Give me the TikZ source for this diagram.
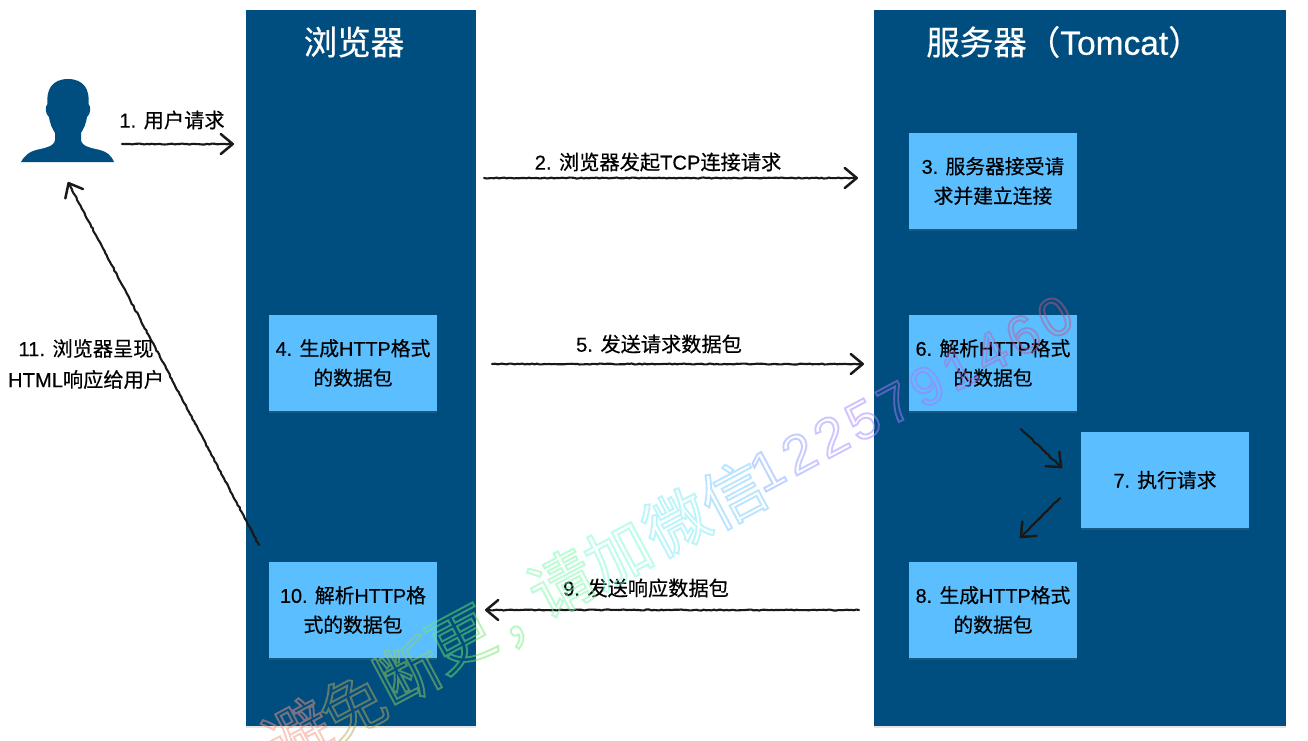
\documentclass[tikz,border=0pt]{standalone}
\usepackage{fontspec}
\setmainfont[FakeBold=0.45]{Liberation Sans}
\newfontfamily\cjk[FakeBold=0.45]{Noto Sans CJK SC}
\newfontfamily\wmcjk{Noto Sans CJK SC}
\newfontfamily\wmlat{Liberation Sans}
\usetikzlibrary{arrows.meta,decorations.pathmorphing,shadows}
\definecolor{panelblue}{RGB}{0,78,127}
\definecolor{boxblue}{RGB}{90,190,255}
\newcommand{\ol}[1]{\special{pdf:code 1 Tr 1.9 w}#1\special{pdf:code 0 Tr 0 w}}
\tikzset{
  panel/.style={fill=panelblue,draw=none,minimum width=#1,minimum height=716pt,inner sep=0pt,anchor=north west,
    drop shadow={shadow xshift=0pt,shadow yshift=-1.5pt,opacity=.2}},
  stepbox/.style={fill=boxblue,draw=none,minimum width=168pt,minimum height=96pt,inner sep=0pt,align=center,
    font=\fontsize{19.8}{29.5}\selectfont,drop shadow={shadow xshift=0pt,shadow yshift=-1.5pt,opacity=.2}},
  paneltitle/.style={text=white,inner sep=0pt,font=\fontsize{33.5}{36}\selectfont},
  lbl/.style={inner sep=0pt,align=center,font=\fontsize{20.2}{31}\selectfont},
  sketch/.style={draw=black!90,line width=2.1pt,-{Straight Barb[length=12pt,width=20pt,line width=2.5pt,round]},
    decorate,decoration={random steps,segment length=2.5pt,amplitude=.5pt,post length=3pt},line cap=round,line join=round},
  wmc/.style={inner sep=0pt,rotate=28,opacity=.5,font=\wmcjk\fontsize{64}{64}\selectfont},
  wmd/.style={inner sep=0pt,rotate=28,opacity=.5,font=\wmlat\fontsize{54}{54}\selectfont}
}
\begin{document}
\begin{tikzpicture}[x=1pt,y=-1pt]
\useasboundingbox (0,0) rectangle (1308,740);
\fill[white] (0,0) rectangle (1308,740);
% panels
\node[panel=230pt] (browser) at (246,10) {};
\node[panel=412pt] (server) at (874,10) {};
\node[paneltitle] (tb) at (354,42) {\cjk 浏览器};
\node[paneltitle] (ts) at (1064,42) {{\cjk 服务器（}Tomcat{\cjk ）}};
% person
\fill[panelblue] (21,162)
  .. controls (25,155) and (29,152) .. (36,150)
  .. controls (44,148) and (54,147) .. (55,140)
  -- (55,133)
  .. controls (52,128) and (50,124) .. (49,117)
  .. controls (45,114) and (45,106) .. (47.5,104)
  .. controls (46,90) and (52,79) .. (68,79)
  .. controls (84,79) and (90,90) .. (88.5,104)
  .. controls (91,106) and (91,114) .. (87,117)
  .. controls (86,124) and (84,128) .. (81,133)
  -- (81,140)
  .. controls (82,147) and (92,148) .. (100,150)
  .. controls (107,152) and (111,155) .. (114,162) -- cycle;
% boxes
\node[stepbox] (s3) at (993,181) {3. {\cjk 服务器接受请}\\{\cjk 求并建立连接}};
\node[stepbox] (s4) at (353,363) {4. {\cjk 生成}HTTP{\cjk 格式}\\{\cjk 的数据包}};
\node[stepbox] (s6) at (993,363) {6. {\cjk 解析}HTTP{\cjk 格式}\\{\cjk 的数据包}};
\node[stepbox] (s7) at (1165,480) {7. {\cjk 执行请求}};
\node[stepbox] (s8) at (993,610) {8. {\cjk 生成}HTTP{\cjk 格式}\\{\cjk 的数据包}};
\node[stepbox] (s10) at (353,610) {10. {\cjk 解析}HTTP{\cjk 格}\\{\cjk 式的数据包}};
% connector ends
\coordinate (a1s) at (122,144); \coordinate (a1e) at (234,144);
\coordinate (a2s) at (484,178); \coordinate (a2e) at (858,178);
\coordinate (a5s) at (492,364); \coordinate (a5e) at (864,364);
\coordinate (a9s) at (859,610); \coordinate (a9e) at (485,610);
\coordinate (a11s) at (259,545); \coordinate (a11e) at (68,182);
\coordinate (a6s) at (1021,429); \coordinate (a6e) at (1062,468);
\coordinate (a7s) at (1060,498); \coordinate (a7e) at (1020,538);
\draw[sketch] (a1s) -- (a1e);
\draw[sketch] (a2s) -- (a2e);
\draw[sketch] (a5s) -- (a5e);
\draw[sketch] (a9s) -- (a9e);
\draw[sketch] (a11s) -- (a11e);
\draw[sketch] (a6s) -- (a6e);
\draw[sketch] (a7s) -- (a7e);
% labels
\node[lbl] (l1) at (172,120) {1. {\cjk 用户请求}};
\node[lbl] (l2) at (658,162) {2. {\cjk 浏览器发起}TCP{\cjk 连接请求}};
\node[lbl] (l5) at (659,344) {5. {\cjk 发送请求数据包}};
\node[lbl] (l9) at (646,588) {9. {\cjk 发送响应数据包}};
\node[lbl] (l11) at (86,364) {11. {\cjk 浏览器呈现}\\HTML{\cjk 响应给用户}};
% watermark
\foreach \n/\x/\y/\c/\t in {
  w1/297/732/{rgb,255:red,245;green,150;blue,130}/避,
  w2/352/706/{rgb,255:red,190;green,170;blue,90}/免,
  w3/408/672/{rgb,255:red,150;green,210;blue,90}/断,
  w4/461/640/{rgb,255:red,110;green,235;blue,110}/更,
  w5/533/629/{rgb,255:red,110;green,245;blue,130}/，,
  w6/561/583/{rgb,255:red,120;green,250;blue,170}/请,
  w7/618/554/{rgb,255:red,120;green,250;blue,215}/加,
  w8/676/522/{rgb,255:red,120;green,235;blue,245}/微,
  w9/733/494/{rgb,255:red,120;green,205;blue,255}/信}
  {\node[wmc,text={\c}] (\n) at (\x,\y) {\ol{\t}};}
\foreach \n/\x/\y/\c/\t in {
  d1/767/470/{rgb,255:red,130;green,170;blue,255}/1,
  d2/799/453/{rgb,255:red,145;green,155;blue,255}/2,
  d3/831/436/{rgb,255:red,155;green,145;blue,255}/2,
  d4/863/420/{rgb,255:red,165;green,135;blue,255}/5,
  d5/895/403/{rgb,255:red,170;green,125;blue,250}/7,
  d6/927/386/{rgb,255:red,180;green,115;blue,245}/9,
  d7/959/369/{rgb,255:red,185;green,105;blue,220}/1,
  d8/991/352/{rgb,255:red,190;green,100;blue,190}/4,
  d9/1023/335/{rgb,255:red,195;green,90;blue,160}/6,
  d10/1055/317/{rgb,255:red,200;green,85;blue,130}/0}
  {\node[wmd,text={\c}] (\n) at (\x,\y) {\ol{\t}};}
\end{tikzpicture}
\end{document}
